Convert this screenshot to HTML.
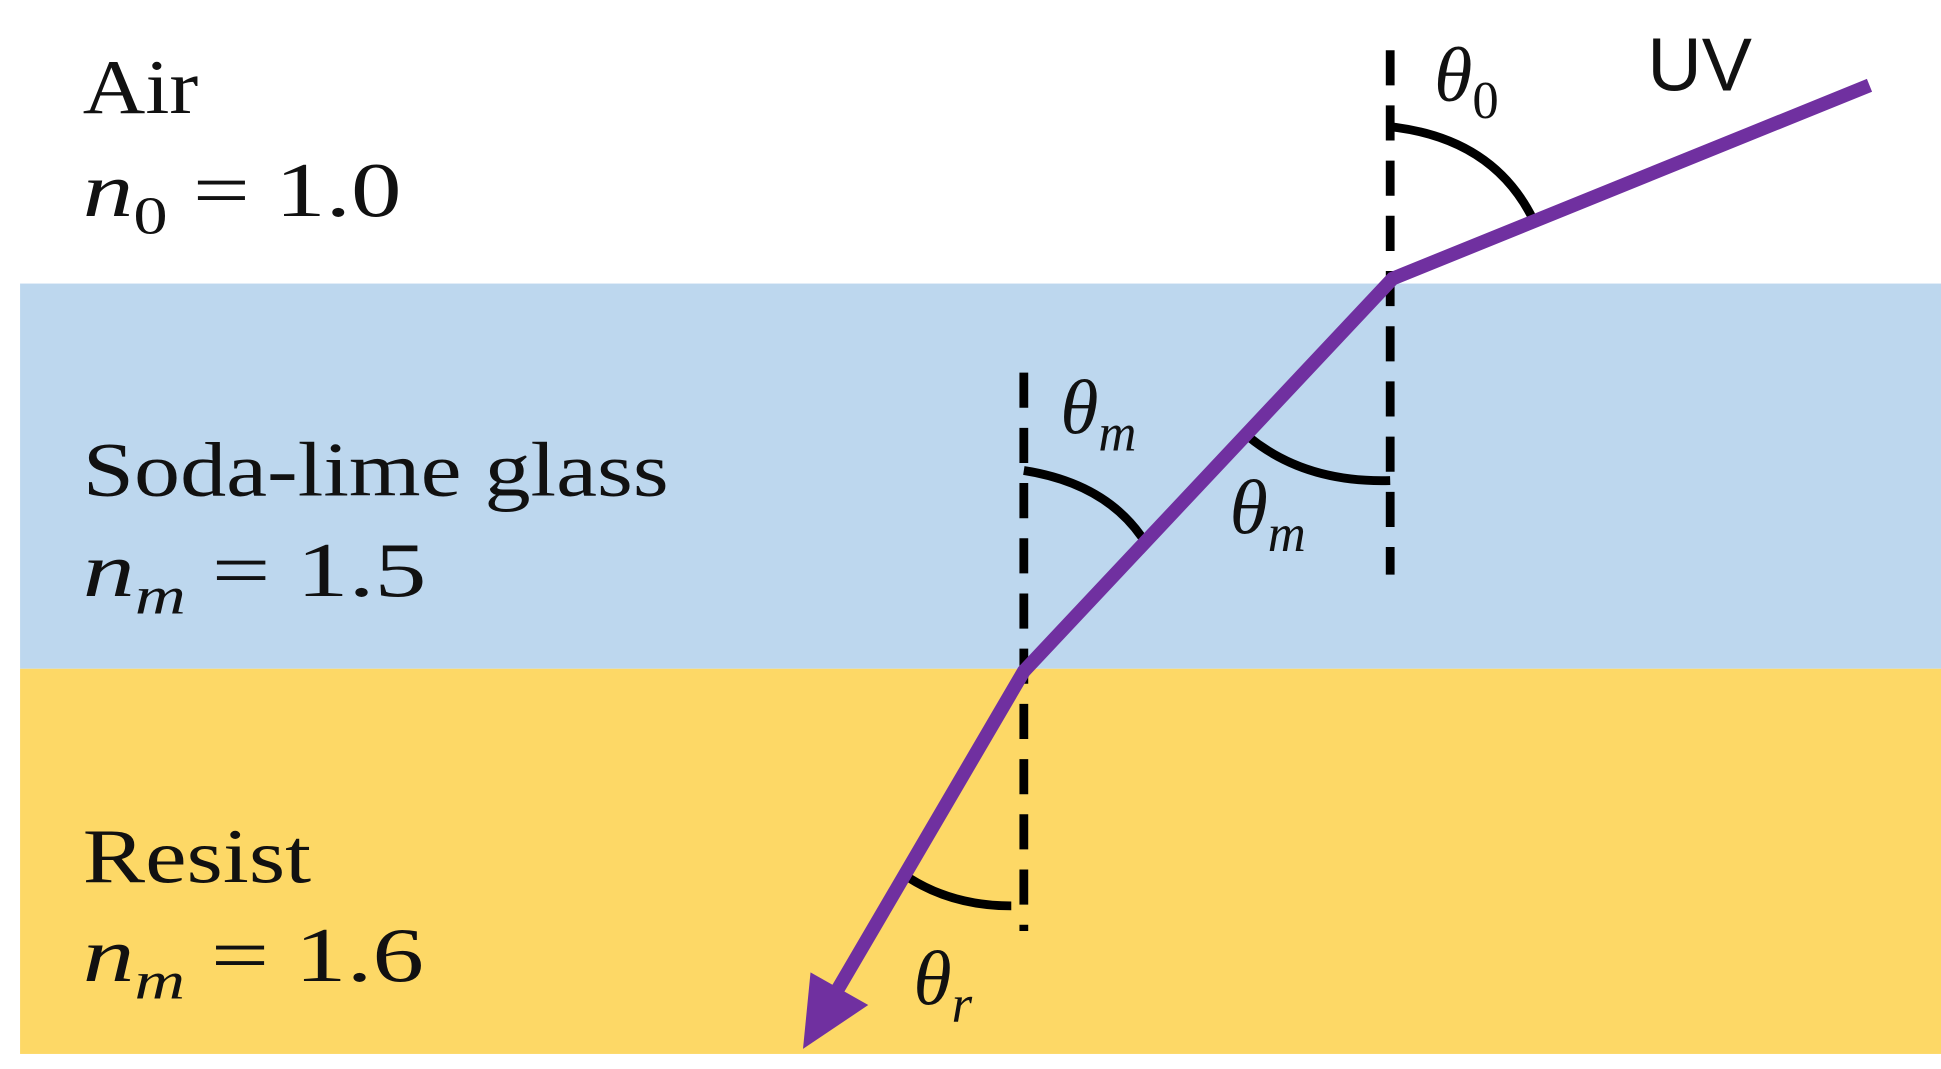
<!DOCTYPE html>
<html><head><meta charset="utf-8"><style>
html,body{margin:0;padding:0;background:#fff;}
svg{display:block;}
.t{font-family:"Liberation Serif",serif;font-size:62px;fill:#111;}
.m{font-family:"Liberation Serif",serif;font-style:italic;font-size:62px;fill:#111;}
.s{font-size:42px;}
</style></head><body>
<svg width="1941" height="1069" viewBox="0 0 1547 852" preserveAspectRatio="none" xmlns="http://www.w3.org/2000/svg">
<rect x="0" y="0" width="1547" height="852" fill="#fff"/>
<rect x="16" y="226" width="1531" height="307" fill="#BDD7EE"/>
<rect x="16" y="533" width="1531" height="307" fill="#FDD866"/>
<g stroke="#000" stroke-width="7" fill="none">
<line x1="1108" y1="40" x2="1108" y2="458" stroke-dasharray="28,16"/>
<line x1="816" y1="297" x2="816" y2="742" stroke-dasharray="28,16"/>
<path d="M1108 101 Q1190 110 1222 175"/>
<path d="M995 348 Q1040 385 1108 383"/>
<path d="M816 375 Q880 385 910 428"/>
<path d="M725 700 Q760 722 806 722"/>
</g>
<polyline points="1490,68 1110,222 816,535 668,788" fill="none" stroke="#7030A0" stroke-width="11"/>
<polygon points="640,836 646,775 692,801" fill="#7030A0"/>
<text class="t" x="66" y="90" textLength="92" lengthAdjust="spacingAndGlyphs">Air</text>
<text class="m" x="66" y="172" textLength="254" lengthAdjust="spacingAndGlyphs">n<tspan class="s" dy="14" font-style="normal">0</tspan><tspan dy="-14" font-style="normal"> = 1.0</tspan></text>
<text class="t" x="66" y="395" textLength="467" lengthAdjust="spacingAndGlyphs">Soda-lime glass</text>
<text class="m" x="66" y="475" textLength="274" lengthAdjust="spacingAndGlyphs">n<tspan class="s" dy="14">m</tspan><tspan dy="-14" font-style="normal"> = 1.5</tspan></text>
<text class="t" x="66" y="703" textLength="182" lengthAdjust="spacingAndGlyphs">Resist</text>
<text class="m" x="66" y="782" textLength="272" lengthAdjust="spacingAndGlyphs">n<tspan class="s" dy="14">m</tspan><tspan dy="-14" font-style="normal"> = 1.6</tspan></text>
<text class="m" x="1143" y="80">θ<tspan class="s" dy="14" font-style="normal">0</tspan></text>
<text x="1313" y="72" font-family="Liberation Sans,sans-serif" font-size="60" fill="#111">UV</text>
<text class="m" x="845" y="345">θ<tspan class="s" dy="14">m</tspan></text>
<text class="m" x="980" y="425">θ<tspan class="s" dy="14">m</tspan></text>
<text class="m" x="728" y="800">θ<tspan class="s" dy="14">r</tspan></text>
</svg>
</body></html>
